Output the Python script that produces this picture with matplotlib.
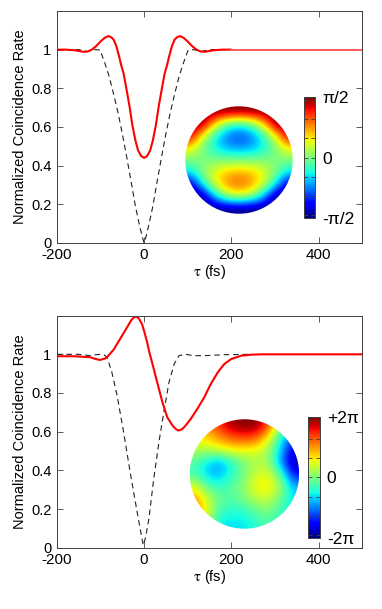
import numpy as np
import matplotlib
matplotlib.use("Agg")
from matplotlib import pyplot as plt
from matplotlib.patches import Circle

plt.rcParams['font.family'] = ['Liberation Sans', 'DejaVu Sans']
plt.rcParams['axes.unicode_minus'] = False
plt.rcParams['mathtext.fontset'] = 'stix'

# top panel: red measured curve and dashed reference dip
tau_top = [-200, -180, -160, -150, -140, -130, -120, -110, -100, -90, -82, -76, -70, -64, -58, -52,
           -47, -40, -33, -27, -20, -14, -7, 0, 7, 14, 20, 27, 33, 40, 47, 52, 58, 64, 70, 76, 82,
           90, 100, 110, 120, 130, 140, 150, 160, 180, 200]
red_top = [1.0, 1.0, 0.997, 0.993, 0.989, 0.99, 1.0, 1.018, 1.042, 1.062, 1.07, 1.065, 1.052, 1.02,
           0.97, 0.915, 0.876, 0.79, 0.70, 0.61, 0.53, 0.48, 0.45, 0.44, 0.45, 0.48, 0.53, 0.61, 0.70,
           0.79, 0.876, 0.915, 0.97, 1.02, 1.052, 1.065, 1.07, 1.062, 1.042, 1.018, 1.0, 0.99, 0.989,
           0.993, 0.997, 1.0, 1.0]
tau_top_tail = [200, 500]
red_top_tail = [1.0, 1.0]

tau_dash_top = [-200, -150, -130, -115, -101, -90, -80, -70, -60, -50, -40, -30, -20, -10, -4, 0,
                4, 10, 20, 30, 40, 50, 60, 70, 80, 90, 101, 115, 130, 150, 200]
dash_top = [1.0, 1.0, 0.99, 1.0, 0.998, 0.93, 0.86, 0.77, 0.675, 0.565, 0.445, 0.32, 0.19, 0.085,
            0.03, 0.0, 0.03, 0.085, 0.19, 0.32, 0.445, 0.565, 0.675, 0.77, 0.86, 0.93, 0.998, 1.0,
            0.99, 1.0, 1.0]

# bottom panel
tau_bot = [-200, -160, -124, -110, -101, -90, -85, -70, -55, -39, -30, -24, -18, -12, -5, 0, 7, 12,
           18, 30, 42, 53, 65, 72, 78, 85, 92, 107, 122, 138, 153, 169, 184, 200, 223, 246, 270, 500]
red_bot = [0.99, 0.99, 0.985, 0.975, 0.971, 0.978, 0.985, 1.024, 1.08, 1.14, 1.175, 1.19, 1.196,
           1.185, 1.157, 1.12, 1.062, 1.01, 0.96, 0.855, 0.752, 0.675, 0.632, 0.615, 0.606, 0.61,
           0.623, 0.666, 0.718, 0.778, 0.847, 0.907, 0.95, 0.976, 0.993, 0.998, 1.0, 1.0]

tau_dash_bot = [-200, -150, -124, -110, -101, -92, -85, -74, -62, -47, -32, -16, -6, -2, 3, 11, 22,
                34, 45, 57, 69, 80, 95, 115, 138, 184, 250]
dash_bot = [1.0, 1.0, 0.993, 0.998, 1.0, 0.997, 0.985, 0.907, 0.787, 0.597, 0.39, 0.184, 0.06,
            0.012, 0.05, 0.15, 0.356, 0.546, 0.70, 0.855, 0.95, 0.993, 1.0, 0.993, 0.993, 0.998, 1.0]

# phase maps on a coarse 9x9 grid (rows top->bottom), in units of the colorbar limit
phase_top = [
    [1.0, 1.0, 1.0, 1.0, 1.0, 1.0, 1.0, 1.0, 1.0],
    [1.0, 1.0, 0.33, -0.09, -0.23, -0.09, 0.33, 1.0, 1.0],
    [0.88, 0.22, -0.25, -0.53, -0.63, -0.53, -0.25, 0.22, 0.88],
    [0.30, -0.03, -0.27, -0.41, -0.45, -0.41, -0.27, -0.03, 0.30],
    [0.0, 0.0, 0.0, 0.0, 0.0, 0.0, 0.0, 0.0, 0.0],
    [-0.30, 0.03, 0.27, 0.41, 0.45, 0.41, 0.27, 0.03, -0.30],
    [-0.88, -0.22, 0.25, 0.53, 0.63, 0.53, 0.25, -0.22, -0.88],
    [-1.0, -1.0, -0.33, 0.09, 0.23, 0.09, -0.33, -1.0, -1.0],
    [-1.0, -1.0, -1.0, -1.0, -1.0, -1.0, -1.0, -1.0, -1.0],
]
phase_bot = [
    [0.3, 0.5, 0.75, 0.95, 1.0, 1.0, 0.7, 0.1, -0.4],
    [0.25, 0.4, 0.5, 0.65, 0.7, 0.65, 0.3, -0.2, -0.6],
    [0.15, 0.15, 0.25, 0.3, 0.3, 0.25, 0.1, -0.35, -0.85],
    [-0.1, -0.3, -0.45, -0.2, 0.0, 0.12, 0.08, -0.45, -0.95],
    [-0.15, -0.35, -0.4, -0.2, -0.02, 0.2, 0.25, -0.1, -0.75],
    [0.25, -0.1, -0.2, -0.08, 0.05, 0.3, 0.35, 0.1, -0.4],
    [0.5, 0.2, -0.05, -0.1, 0.0, 0.15, 0.2, -0.05, -0.3],
    [0.6, 0.25, -0.15, -0.2, -0.2, -0.05, 0.0, -0.15, -0.3],
    [0.5, 0.15, -0.3, -0.3, -0.3, -0.2, -0.1, -0.2, -0.3],
]
cbar_labels_top = ['-\u03c0/2', '0', '\u03c0/2']
cbar_labels_bot = ['-2\u03c0', '0', '+2\u03c0']

fig = plt.figure(figsize=(3.82, 6.09), dpi=100)
edge = '#404040'


def style_axes(ax):
    ax.set_xlim(-200, 500)
    ax.set_ylim(0, 1.2)
    ax.set_xticks([-200, 0, 200, 400])
    ax.set_yticks([0, 0.2, 0.4, 0.6, 0.8, 1])
    ax.set_yticklabels(['0', '0.2', '0.4', '0.6', '0.8', '1'])
    ax.tick_params(direction='in', top=True, right=True, length=4, width=0.6, color=edge)
    ax.tick_params(axis='y', pad=4, labelsize=10.5)
    ax.tick_params(axis='x', pad=3.5, labelsize=11)
    for s in ax.spines.values():
        s.set_color(edge)
        s.set_linewidth(0.7)
    ax.set_ylabel('Normalized Coincidence Rate', fontsize=10.5, labelpad=3)
    ax.set_xlabel(r'$\mathrm{\tau}$ (fs)', fontsize=10.5, labelpad=1)


def phase_inset(rect, crect, grid, labels):
    ax = fig.add_axes(rect)
    im = ax.imshow(np.array(grid), extent=[-1, 1, -1, 1], cmap='jet', vmin=-1, vmax=1,
                   interpolation='bicubic')
    im.set_clip_path(Circle((0, 0), 0.995, transform=ax.transData))
    ax.set_xlim(-1, 1)
    ax.set_ylim(-1, 1)
    ax.axis('off')
    cax = fig.add_axes(crect)
    cb = fig.colorbar(im, cax=cax)
    cb.outline.set_edgecolor(edge)
    cb.outline.set_linewidth(0.7)
    cax.yaxis.set_ticks([-1, 0, 1], labels=labels)
    cax.yaxis.set_ticks([k / np.pi for k in range(-3, 4)], minor=True)
    cax.tick_params(which='both', direction='in', left=True, right=True, length=3,
                    width=0.6, color=edge, labelsize=12.5, pad=5)


ax1 = fig.add_axes([0.149, 0.601, 0.799, 0.381])
ax1.plot(tau_dash_top, dash_top, color='#222222', lw=0.8, ls=(0, (5, 3.5)))
ax1.plot(tau_top, red_top, color='red', lw=1.5)
ax1.plot(tau_top_tail, red_top_tail, color='#ff6060', lw=1.5)
style_axes(ax1)
phase_inset([0.4843, 0.6486, 0.2827, 0.1773], [0.7958, 0.642, 0.0288, 0.1987],
            phase_top, cbar_labels_top)

ax2 = fig.add_axes([0.149, 0.1007, 0.799, 0.381])
ax2.plot(tau_dash_bot, dash_bot, color='#222222', lw=0.8, ls=(0, (5, 3.5)))
ax2.plot(tau_bot, red_bot, color='red', lw=1.5)
style_axes(ax2)
phase_inset([0.496, 0.1314, 0.288, 0.1806], [0.806, 0.1166, 0.0314, 0.1987],
            phase_bot, cbar_labels_bot)

fig.savefig('out.png', dpi=100)
